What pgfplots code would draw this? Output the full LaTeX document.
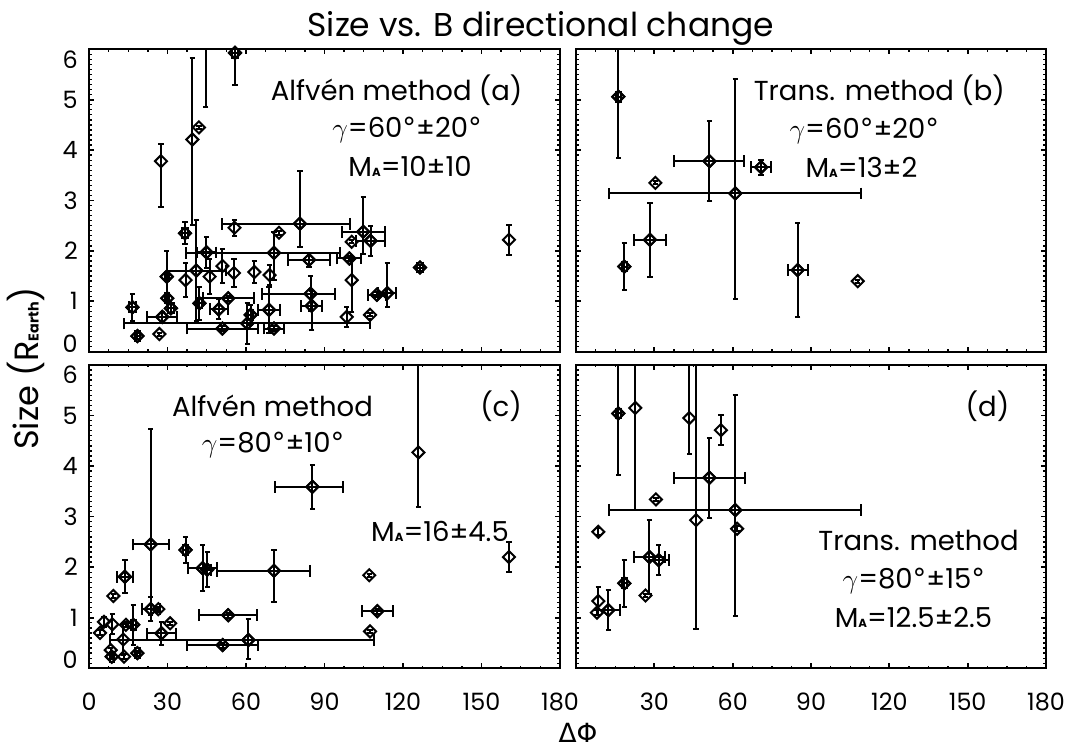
\documentclass[border=0pt]{standalone}
\usepackage{fontspec}
\setmainfont{Poppins}
\newfontfamily\dejavu{DejaVu Sans}
\usepackage{pgfplots}
\usepackage{pgfplotstable}
\pgfplotsset{compat=1.18}
\newcommand{\sub}[1]{{\fontsize{8.8}{9}\selectfont\bfseries #1}}
\newcommand{\dg}{{\dejavu °}}

% columns: x y  x-err-plus x-err-minus  y-err-plus y-err-minus
\pgfplotstableread{
x y exp exm eyp eym
16.6 0.88 1.2 1.2 0.27 0.27
18.5 0.31 1.0 1.0 0.06 0.06
28.0 0.69 5.7 5.7 0.1 0.1
29.7 1.49 0.8 0.8 0.51 0.51
29.9 1.06 0.8 0.8 0.1 0.1
31.3 0.86 1.0 1.0 0.1 0.1
36.7 2.35 1.0 1.0 0.22 0.22
41.0 1.61 11.3 11.3 1.0 1.0
42.2 0.96 1.0 1.0 0.33 0.33
44.9 1.97 3.5 3.5 0.3 0.3
53.2 1.06 9.8 9.8 0.05 0.05
49.6 0.84 3.5 3.5 0.2 0.2
51.0 0.46 13.4 13.4 0.05 0.05
55.8 5.93 1.2 1.2 0.7 0.64
60.5 0.56 47 47 0.4 0.4
61.8 0.73 1.0 1.0 0.2 0.2
68.8 0.83 4.2 4.2 0.45 0.45
70.7 0.46 4.0 4.0 0.05 0.05
80.6 2.54 19.1 29.9 1.05 0.46
70.7 1.96 25.2 33.5 0.41 0.54
84.1 1.82 8.0 8.0 0.14 0.14
84.7 1.15 9.3 18.7 0.35 0.35
85.1 0.91 4.0 4.0 0.3 0.48
104.8 2.38 8.3 8.3 0.68 0.44
107.6 2.2 5.5 5.5 0.3 0.3
99.5 1.85 4.6 4.6 0.05 0.05
110.0 1.13 3.5 3.5 0.05 0.05
114.0 1.16 3.5 3.5 0.59 0.27
126.5 1.67 1.0 1.0 0.06 0.06
}\tabAxy
\pgfplotstableread{
x y eyp eym
26.9 0.35 0.03 0.03
36.9 1.42 0.33 0.33
44.6 7.0 2.14 2.14
46.1 1.49 0.35 0.35
51.0 1.70 0.34 0.34
55.4 1.56 0.28 0.28
39.5 4.21 1.61 1.70
42.0 4.45 0.03 0.03
27.5 3.78 0.35 0.9
63.2 1.58 0.22 0.22
69.0 1.52 0.2 0.2
55.6 2.46 0.16 0.16
72.6 2.36 0.04 0.04
100.4 2.18 0.03 0.03
100.4 1.42 0.4 0.63
98.5 0.69 0.2 0.2
107.4 0.73 0.03 0.03
160.5 2.22 0.3 0.3
}\tabAy
\pgfplotstableread{
x y exp exm eyp eym
16.2 5.06 1.0 1.0 1.22 1.22
51.1 3.78 13.4 13.4 0.79 0.79
70.9 3.66 3.9 3.9 0.15 0.15
61.0 3.14 48.2 48.5 2.27 2.1
28.3 2.22 6.0 6.0 0.73 0.73
18.5 1.69 1.0 1.0 0.47 0.47
84.9 1.62 3.8 3.8 0.93 0.93
}\tabBxy
\pgfplotstableread{
x y eyp eym
30.4 3.35 0.03 0.03
107.9 1.40 0.03 0.03
}\tabBy
\pgfplotstableread{
x y exp exm eyp eym
13.7 1.81 3.0 3.0 0.33 0.33
18.5 0.30 1.0 1.0 0.05 0.05
16.9 0.86 1.0 1.0 0.4 0.4
23.6 1.17 3.5 3.5 0.24 0.24
23.6 2.45 6.8 6.8 2.28 1.4
27.7 0.69 5.6 5.6 0.23 0.23
36.9 2.34 0.8 0.8 0.25 0.25
43.4 1.98 5.7 5.7 0.45 0.45
45.2 1.95 1.5 1.5 0.35 0.35
70.7 1.93 13.8 21.8 0.41 0.61
53.2 1.05 11.0 11.0 0.05 0.05
85.4 3.59 11.8 14.3 0.44 0.44
110.2 1.13 6.0 6.0 0.05 0.05
60.9 0.56 48 52.9 0.42 0.38
51.1 0.46 13.5 13.5 0.05 0.05
8.7 0.23 0.8 0.8 0.05 0.05
}\tabCxy
\pgfplotstableread{
x y eyp eym
4.2 0.70 0.05 0.05
5.7 0.92 0.1 0.1
8.9 0.87 0.2 0.2
9.3 1.43 0.03 0.03
13.1 0.57 0.3 0.3
8.3 0.36 0.05 0.05
13.4 0.23 0.05 0.05
14.1 0.86 0.05 0.05
26.5 1.17 0.05 0.05
31.0 0.89 0.03 0.03
125.9 4.27 2.0 1.08
107.1 1.84 0.03 0.03
107.4 0.73 0.03 0.03
160.5 2.20 0.3 0.3
}\tabCy
\pgfplotstableread{
x y exp exm eyp eym
16.2 5.04 1.0 1.0 1.22 1.22
51.1 3.77 13.6 13.6 0.79 0.79
61.0 3.13 48.2 48.5 2.27 2.1
28.1 2.20 6.0 6.0 0.73 0.73
31.7 2.14 3.8 3.8 0.29 0.29
18.5 1.68 1.0 1.0 0.47 0.47
12.4 1.15 4.5 4.5 0.39 0.39
}\tabDxy
\pgfplotstableread{
x y eyp eym
22.7 5.15 2.0 2.02
43.4 4.95 1.2 0.72
46.0 2.93 3.5 2.16
55.5 4.71 0.3 0.3
61.7 2.76 0.05 0.05
30.6 3.34 0.03 0.03
8.55 2.70 0.07 0.07
26.6 1.44 0.03 0.03
8.55 1.33 0.27 0.27
8.0 1.10 0.05 0.05
}\tabDy

\pgfplotsset{
  panel/.style={
    scale only axis, width=353.25pt, height=226.8pt, anchor=south west,
    xmin=0, xmax=180, ymin=0, ymax=6,
    xtick={0,30,...,180}, ytick={0,1,...,6},
    minor x tick num=3, minor y tick num=9,
    tick align=inside, xtick pos=both, ytick pos=both,
    major tick length=3.75pt, minor tick length=1.9pt,
    axis line style={line width=1.5pt},
    every major tick/.style={black, line width=1.3pt},
    every minor tick/.style={black, line width=1pt},
    /pgf/number format/assume math mode=true,
    ticklabel style={font=\fontsize{17.9}{20}\selectfont, inner sep=0pt},
    xticklabel style={yshift=-18.5pt},
    yticklabel style={xshift=-8.25pt},
    xticklabels=\empty, yticklabels=\empty,
    clip=true,
  },
  ylabs/.style={yticklabels={\raisebox{6.3pt}[\height][\depth]{0},1,2,3,4,5,\raisebox{-7.5pt}[\height][\depth]{6}}},
  pts/.style={only marks, black, mark=square, mark size=3.2pt,
    mark options={rotate=45, line width=1.5pt, solid, black},
    error bars/error bar style={line width=1.5pt, black}},
  ex/.style={pts, error bars/x dir=both, error bars/y dir=none, error bars/x explicit,
    error bars/error mark options={rotate=90, mark size=4.4pt, line width=1.5pt, black}},
  ey/.style={pts, error bars/y dir=both, error bars/x dir=none, error bars/y explicit,
    error bars/error mark options={rotate=90, mark size=2pt, line width=1.5pt, black}},
}
\newcommand{\xyplots}[2]{%
  \addplot+[ex] table[x=x, y=y, x error plus=exp, x error minus=exm]{#1};
  \addplot+[ey] table[x=x, y=y, y error plus=eyp, y error minus=eym]{#1};
  \addplot+[ey] table[x=x, y=y, y error plus=eyp, y error minus=eym]{#2};
}
\begin{document}
\begin{tikzpicture}
\useasboundingbox (0,0) rectangle (806.25pt,561.75pt);
% ---------------- panel (a)
\begin{axis}[panel, at={(66.75pt,297.975pt)}, ylabs]
\xyplots{\tabAxy}{\tabAy}
\end{axis}
% ---------------- panel (b)
\begin{axis}[panel, at={(432pt,297.975pt)}, width=352.5pt]
\xyplots{\tabBxy}{\tabBy}
\end{axis}
% ---------------- panel (c)
\begin{axis}[panel, at={(66.75pt,60.525pt)}, height=227.5pt, ylabs,
  xticklabels={0,30,60,90,120,150,180}]
\xyplots{\tabCxy}{\tabCy}
\end{axis}
% ---------------- panel (d)
\begin{axis}[panel, at={(432pt,60.525pt)}, width=352.5pt, height=227.5pt,
  xticklabels={,30,60,90,120,150,180}]
\xyplots{\tabDxy}{\tabDy}
\end{axis}
% ---------------- texts
\tikzset{lab/.style={anchor=base, inner sep=0pt, font=\fontsize{20.6}{22}\selectfont}}
\node[anchor=base, inner sep=0pt, font=\fontsize{24.7}{28}\selectfont] at (405.6pt,534.4pt) {Size vs. B directional change};
\node[lab] at (297.5pt,486.2pt) {Alfvén method (a)};
\node[lab] at (305.3pt,458.6pt) {$\gamma$=60\dg±20\dg};
\node[lab] at (307.5pt,429.2pt) {M\sub{A}=10±10};
\node[lab] at (659.5pt,486.0pt) {Trans. method (b)};
\node[lab] at (648.3pt,458.0pt) {$\gamma$=60\dg±20\dg};
\node[lab] at (646.1pt,428.5pt) {M\sub{A}=13±2};
\node[lab] at (204.4pt,249.2pt) {Alfvén method};
\node[lab] at (375.8pt,249.2pt) {(c)};
\node[lab] at (204.8pt,222pt) {$\gamma$=80\dg±10\dg};
\node[lab] at (330pt,155.25pt) {M\sub{A}=16±4.5};
\node[lab] at (740.6pt,249pt) {(d)};
\node[lab] at (688.9pt,149pt) {Trans. method};
\node[lab] at (685.4pt,120.2pt) {$\gamma$=80\dg±15\dg};
\node[lab] at (685.1pt,90.75pt) {M\sub{A}=12.5±2.5};
\node[anchor=base, inner sep=0pt, font=\fontsize{19.8}{22}\selectfont\dejavu] at (433.5pt,5pt) {ΔΦ};
\node[anchor=base, inner sep=0pt, rotate=90, font=\fontsize{25.2}{28}\selectfont] at (29pt,285.4pt) {Size (R{\fontsize{10.7}{11}\selectfont\bfseries Earth})};
\end{tikzpicture}
\end{document}
